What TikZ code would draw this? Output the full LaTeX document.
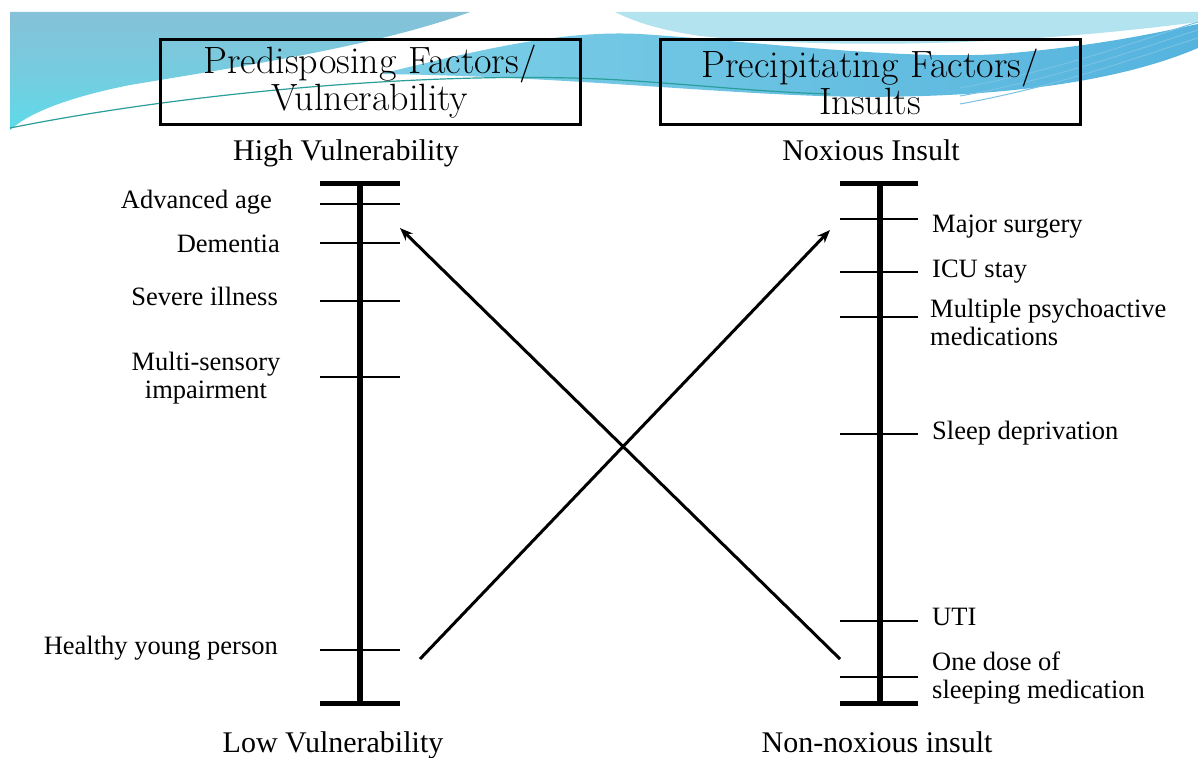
\documentclass[tikz,border=0pt]{standalone}
\usepackage{fontspec}
\newfontfamily\labelfont{Liberation Serif}
\usetikzlibrary{positioning,arrows.meta}
\definecolor{steelwave}{HTML}{86C1D8}
\definecolor{cyanwave}{HTML}{5EDBE9}
\definecolor{lightwave}{HTML}{B3E3EE}
\definecolor{midwave}{HTML}{7CCFE6}
\definecolor{deepwave}{HTML}{55B3DE}
\definecolor{tealline}{HTML}{2A9E9A}
\tikzset{
  titlebox/.style={draw,line width=3pt,minimum width=420pt,minimum height=85pt,
    align=center,inner sep=0pt,font=\fontsize{38}{37}\selectfont},
  heading/.style={font=\labelfont\fontsize{30}{32}\selectfont,inner sep=0pt},
  factor/.style={font=\labelfont\fontsize{26.5}{28}\selectfont,inner sep=0pt},
  bar/.style={line width=6pt},
  endbar/.style={line width=5pt},
  tick/.style={line width=2pt},
  riskarrow/.style={line width=3pt,-{Stealth[length=13pt,width=10pt]}}
}
\begin{document}
\begin{tikzpicture}[x=1pt,y=-1pt]
\fill[white] (0,0) rectangle (1198,757);
\useasboundingbox (0,0) rectangle (1198,757);
% banner
\shade[top color=steelwave,bottom color=cyanwave,middle color=steelwave!60!cyanwave] (10,12) -- (470,12)
  .. controls (380,45) and (250,65) .. (130,85)
  .. controls (70,97) and (30,112) .. (10,130) -- cycle;
\fill[lightwave] (615,12) -- (1198,12) -- (1198,22)
  .. controls (1000,48) and (820,48) .. (700,36)
  .. controls (660,30) and (635,22) .. cycle;
\shade[left color=midwave,right color=deepwave] (380,74)
  .. controls (480,50) and (560,30) .. (640,34)
  .. controls (760,42) and (900,60) .. (1000,54)
  .. controls (1100,46) and (1160,32) .. (1198,24) -- (1198,48)
  .. controls (1100,90) and (950,100) .. (820,96)
  .. controls (700,92) and (550,76) .. cycle;
\draw[tealline,line width=1.2pt] (10,128) .. controls (200,90) and (450,70) .. (620,80)
  .. controls (700,85) and (760,92) .. (830,94);
\foreach \d in {0,8,16}
  \draw[deepwave!80!white,line width=1pt] (960,{88+\d}) .. controls (1060,{70+\d}) and (1140,{40+\d}) .. (1198,{22+\d});
% titles
\node[titlebox] (pre) at (370,82) {Predisposing Factors/\\Vulnerability};
\node[titlebox] (prec) at (870,82) {Precipitating Factors/\\Insults};
\node[heading,anchor=base] (high) at (346,160) {High Vulnerability};
\node[heading,anchor=base] (low) at (333,752) {Low Vulnerability};
\node[heading,anchor=base] (nox) at (871,160) {Noxious Insult};
\node[heading,anchor=base] (non) at (877,752) {Non-noxious insult};
% scales
\draw[bar] (360,183) -- (360,703);
\draw[endbar] (320,183) -- (400,183);
\draw[endbar] (320,703) -- (400,703);
\foreach \y in {204,243,301,377,650}
  \draw[tick] (320,\y) -- (400,\y);
\draw[bar] (880,183) -- (880,703);
\draw[endbar] (840,183) -- (918,183);
\draw[endbar] (840,703) -- (918,703);
\foreach \y in {219,272,317,434,621,677}
  \draw[tick] (840,\y) -- (918,\y);
% left factors
\node[factor,anchor=base east] (age) at (272,208) {Advanced age};
\node[factor,anchor=base east] (dem) at (280,252) {Dementia};
\node[factor,anchor=base east] (ill) at (278,305) {Severe illness};
\node[factor,anchor=base,align=center] (sens) at (206,398) {Multi-sensory\\impairment};
\node[factor,anchor=base east] (young) at (278,654) {Healthy young person};
% right factors
\node[factor,anchor=base west] (surg) at (932,232) {Major surgery};
\node[factor,anchor=base west] (icu) at (932,277) {ICU stay};
\node[factor,anchor=base west,align=left] (meds) at (930,345) {Multiple psychoactive\\medications};
\node[factor,anchor=base west] (sleep) at (932,439) {Sleep deprivation};
\node[factor,anchor=base west] (uti) at (932,625) {UTI};
\node[factor,anchor=base west,align=left] (dose) at (932,698) {One dose of\\sleeping medication};
% arrows
\coordinate (healthy) at (420,659);
\coordinate (noxtop) at (830,230);
\coordinate (mild) at (840,659);
\coordinate (vulntop) at (400,228);
\draw[riskarrow] (healthy) -- (noxtop);
\draw[riskarrow] (mild) -- (vulntop);
\end{tikzpicture}
\end{document}
